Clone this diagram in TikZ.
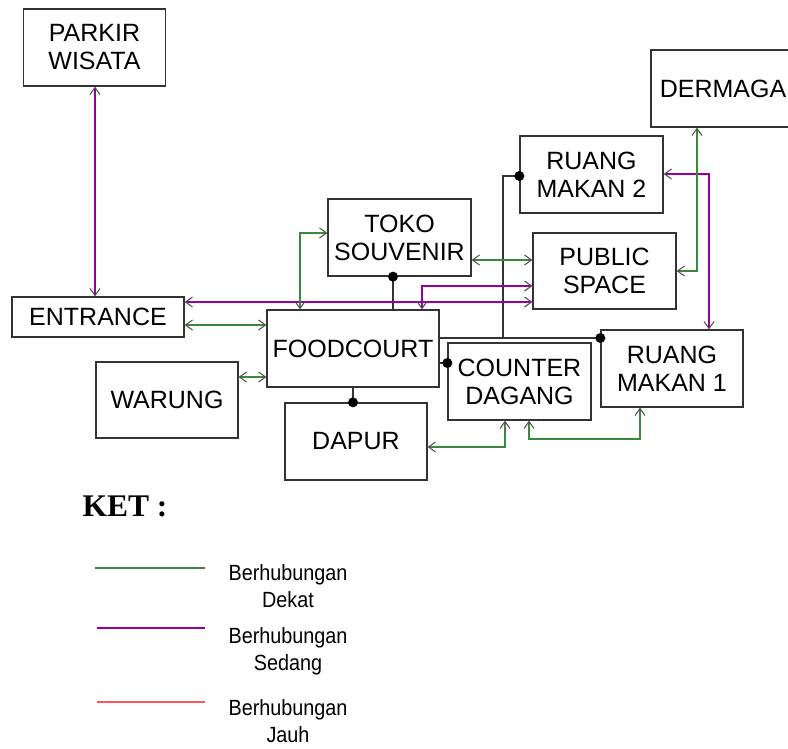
\documentclass[tikz,border=0pt]{standalone}
\usepackage{fontspec}
\setmainfont{Liberation Sans}
\newfontfamily\ketfont{Liberation Serif}
\newfontfamily\legfont[FakeStretch=0.9]{Liberation Sans}
\usetikzlibrary{arrows.meta}

\definecolor{near}{RGB}{60,135,60}
\definecolor{mid}{RGB}{150,0,160}
\definecolor{far}{RGB}{255,85,85}

\tikzset{
  barb/.tip={Straight Barb[length=7pt,width=10pt,line width=1pt,color=black!70]},
  room/.style={draw=black!80, line width=1.3pt, fill=white, inner sep=0pt,
    align=center, font=\fontsize{25}{28}\selectfont},
  nearlink/.style={draw=near, line width=1.1pt, {barb}-{barb}},
  midlink/.style={draw=mid, line width=1.1pt, {barb}-{barb}},
  solidlink/.style={draw=black!80, line width=1.1pt},
  jointdot/.style={circle, fill=black, inner sep=0pt, minimum size=10pt},
  legtext/.style={align=center, inner sep=0pt, font=\legfont\fontsize{22}{27}\selectfont}
}

\begin{document}
\begin{tikzpicture}[x=1pt,y=-1pt]
\useasboundingbox (0,0) rectangle (788,749);

% rooms
\node[room, minimum width=142, minimum height=77] (park) at (94.5,47.5) {PARKIR\\WISATA};
\node[room, minimum width=172, minimum height=40] (ent) at (98,317) {ENTRANCE};
\node[room, minimum width=172, minimum height=77] (fc) at (353,348.5) {FOODCOURT};
\node[room, minimum width=142, minimum height=76] (war) at (167,400) {WARUNG};
\node[room, minimum width=142, minimum height=77] (dapur) at (356,441.5) {DAPUR};
\node[room, minimum width=143, minimum height=77] (toko) at (399.5,237.5) {TOKO\\SOUVENIR};
\node[room, minimum width=143, minimum height=76] (pub) at (604.5,271) {PUBLIC\\SPACE};
\node[room, minimum width=143, minimum height=77] (rm2) at (591.5,174.5) {RUANG\\MAKAN 2};
\node[room, minimum width=144, minimum height=77] (derm) at (723,88.5) {DERMAGA};
\node[room, minimum width=142, minimum height=77] (rm1) at (672,368.5) {RUANG\\MAKAN 1};
\node[room, minimum width=143, minimum height=77] (cd) at (519.5,381.5) {COUNTER\\DAGANG};

% solid links with joint dots
\draw[solidlink] (fc.east |- 0,338) -- (503,338) |- (rm2.west |- 0,176) node[jointdot]{};
\draw[solidlink] (fc.east |- 0,338) -- (rm1.west |- 0,338) node[jointdot]{};
\draw[solidlink] (fc.east |- 0,363) -- (cd.west |- 0,363) node[jointdot]{};
\draw[solidlink] (fc.north -| 393,0) -- (toko.south -| 393,0) node[jointdot]{};
\draw[solidlink] (fc.south -| 353,0) -- (dapur.north -| 353,0) node[jointdot]{};

% medium relations
\draw[midlink] (park.south -| 95,0) -- (ent.north -| 95,0);
\draw[midlink] (ent.east |- 0,302) -- (pub.west |- 0,302);
\draw[midlink] (fc.north -| 422,0) |- (pub.west |- 0,286);
\draw[midlink] (rm2.east |- 0,174) -| (rm1.north -| 709,0);

% close relations
\draw[nearlink] (ent.east |- 0,325) -- (fc.west |- 0,325);
\draw[nearlink] (war.east |- 0,377) -- (fc.west |- 0,377);
\draw[nearlink] (fc.north -| 300,0) |- (toko.west |- 0,233);
\draw[nearlink] (toko.east |- 0,260) -- (pub.west |- 0,260);
\draw[nearlink] (derm.south -| 697,0) |- (pub.east |- 0,271);
\draw[nearlink] (dapur.east |- 0,447) -| (cd.south -| 505,0);
\draw[nearlink] (cd.south -| 529,0) -- (529,439) -| (rm1.south -| 640,0);

% legend
\node[inner sep=0pt, font=\ketfont\bfseries\fontsize{31.5}{34}\selectfont] (ket) at (125,506) {KET :};
\draw[near, line width=1.1pt] (95,568) -- (205,568);
\draw[mid, line width=1.1pt] (97,628) -- (205,628);
\draw[far, line width=1.1pt] (97,702) -- (205,702);
\node[legtext] (lnear) at (288,586) {Berhubungan\\Dekat};
\node[legtext] (lmid) at (288,651) {Berhubungan\\Sedang};
\node[legtext] (lfar) at (288,721) {Berhubungan\\Jauh};
\end{tikzpicture}
\end{document}
